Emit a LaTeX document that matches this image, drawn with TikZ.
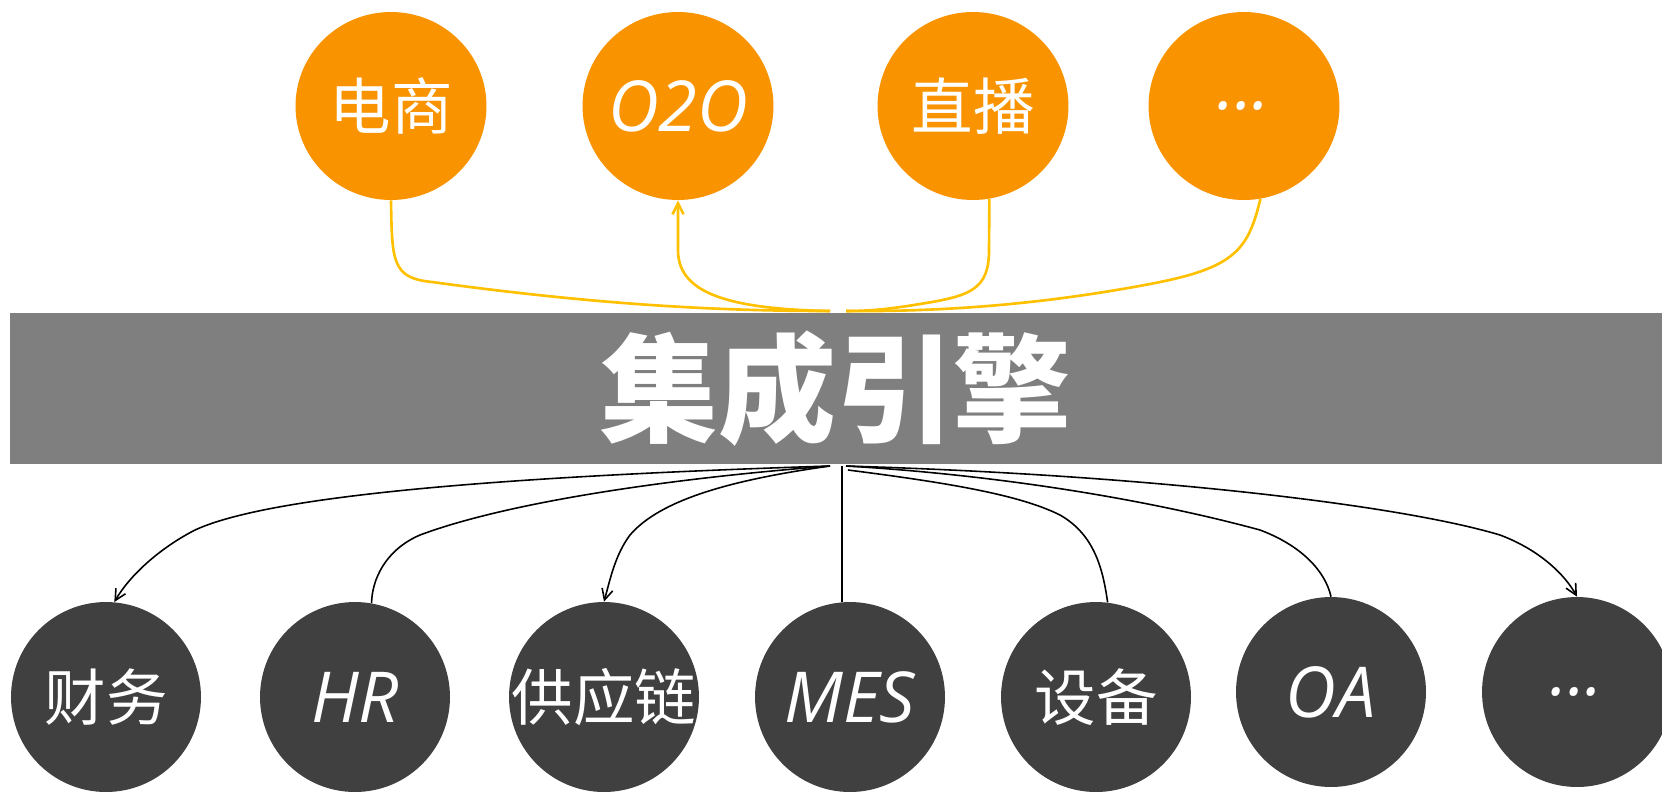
\documentclass[tikz,border=0pt]{standalone}
\usepackage{fontspec}
\usepackage{xcolor}
\usepackage{tikz}
\usetikzlibrary{arrows.meta}
\usetikzlibrary{shapes.geometric}
\newfontfamily\cjkfont{Noto Sans CJK SC}
\newfontfamily\latinfont{Open Sans}
\definecolor{orangeFill}{RGB}{249,148,0}
\definecolor{darkFill}{RGB}{64,64,64}
\definecolor{barFill}{RGB}{127,127,127}
\definecolor{linkYellow}{RGB}{255,192,0}
\tikzset{
    cnode/.style = {align=center, inner sep=0pt, text centered, ellipse, text=white},
    orange_node/.style = {cnode, fill=orangeFill, minimum width=3.82cm, minimum height=3.76cm, font=\cjkfont\fontsize{35}{38}\selectfont},
    dark_node/.style = {cnode, fill=darkFill, minimum width=3.8cm, minimum height=3.8cm, font=\cjkfont\fontsize{35}{38}\selectfont},
    latin/.style = {inner xsep=-0.4cm, font=\latinfont\itshape\fontsize{40}{42}\selectfont},
    bar_node/.style = {rectangle, inner sep=0pt, fill=barFill, text=white, minimum width=33.04cm, minimum height=3.02cm, font=\cjkfont\bfseries\fontsize{67}{72}\selectfont},
    up_link/.style = {draw=linkYellow, line width=1.5pt},
    down_link/.style = {draw=black, line width=0.9pt},
    barb/.tip = {Straight Barb[length=2.2mm, width=2.2mm]}
}
\begin{document}
\begin{tikzpicture}[x=0.02cm, y=-0.02cm]
    \path[use as bounding box, clip] (0,0) rectangle (1662,795);

    % engine bar
    \node [bar_node] (engine) at (836,388.5) {集成引擎};

    % top row
    \node [orange_node] (dianshang) at (391,106) {电商};
    \node [orange_node, latin] (o2o) at (678,106) {O2O};
    \node [orange_node] (zhibo) at (973,106) {直播};
    \node [orange_node, latin] (topmore) at (1244,106) {...};

    % bottom row
    \node [dark_node] (caiwu) at (106,697) {财务};
    \node [dark_node, latin] (hr) at (355,697) {HR};
    \node [dark_node, inner xsep=-0.6cm] (supply) at (604,697) {供应链};
    \node [dark_node, latin] (mes) at (850,697) {MES};
    \node [dark_node] (shebei) at (1096,697) {设备};
    \node [dark_node, latin] (oa) at (1331,692) {OA};
    \node [dark_node, latin] (botmore) at (1577,692) {...};

    % hubs on the bar
    \coordinate (topL) at (830,311);
    \coordinate (topR) at (846,311);
    \coordinate (botL) at (830,466);
    \coordinate (botM) at (842,466);
    \coordinate (botR) at (846,466);

    % yellow links
    \draw [up_link] (dianshang.south) .. controls (392,262) and (392,278) .. (432,282)
        .. controls (600,305) and (720,311) .. (topL);
    \draw [up_link, barb-] (o2o.south) -- (678,250)
        .. controls (678,290) and (720,309) .. (topL);
    \draw [up_link] (zhibo.-80) -- (989,250) .. controls (989,290) and (970,296) .. (920,304)
        .. controls (890,309) and (870,311) .. (topR);
    \draw [up_link] (topmore.-80) .. controls (1248,250) and (1235,268) .. (1150,284)
        .. controls (1050,303) and (950,312) .. (topR);

    % black links
    \draw [down_link, -barb] (botL) .. controls (450,478) and (260,500) .. (195,530)
        .. controls (160,548) and (130,575) .. (caiwu.85);
    \draw [down_link] (botL) .. controls (650,480) and (500,505) .. (420,535)
        .. controls (385,550) and (372,580) .. (hr.80);
    \draw [down_link, -barb] (botL) .. controls (730,480) and (660,500) .. (630,535)
        .. controls (615,555) and (610,580) .. (supply.north);
    \draw [down_link] (botM) -- (botM |- mes.north);
    \draw [down_link] (848,470) .. controls (950,483) and (1020,495) .. (1060,515)
        .. controls (1095,535) and (1103,570) .. (shebei.83);
    \draw [down_link] (botR) .. controls (1000,475) and (1150,500) .. (1260,530)
        .. controls (1300,545) and (1325,570) .. (oa.north);
    \draw [down_link, -barb] (botR) .. controls (1150,475) and (1400,505) .. (1500,535)
        .. controls (1540,550) and (1565,575) .. (botmore.north);
\end{tikzpicture}
\end{document}
